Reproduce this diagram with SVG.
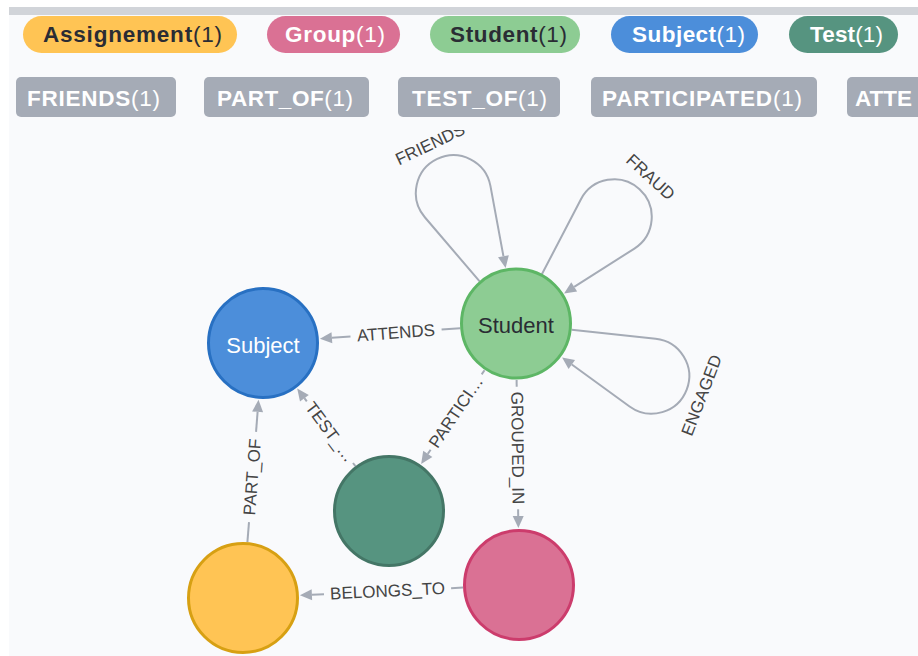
<svg xmlns="http://www.w3.org/2000/svg" width="918" height="656" viewBox="0 0 918 656">
<style>
.pill text, .tag text { font-family: "Liberation Sans", Arial, sans-serif; font-size: 22.5px; }
.b { font-weight: 700; }
.r { font-weight: 400; }
.dark { fill: #2a2c34; }
.light { fill: #ffffff; }
.tag rect { fill: #a5abb6; }
.edge { stroke: #a5abb6; stroke-width: 2; fill: none; }
.elabel { font-family: "Liberation Sans", Arial, sans-serif; font-size: 17px; fill: #444444; text-anchor: middle; dominant-baseline: central; }
.nlabel { font-family: "Liberation Sans", Arial, sans-serif; font-size: 22px; text-anchor: middle; }
.node circle { stroke-width: 3; }
</style>
<defs>
<marker id="arr" markerUnits="userSpaceOnUse" markerWidth="13" markerHeight="12" refX="0" refY="5.5" orient="auto" overflow="visible">
<path d="M0,0 L12,5.5 L0,11 Z" fill="#a5abb6"/>
</marker>
</defs>
<rect x="0" y="0" width="918" height="656" fill="#ffffff"/>
<rect x="9" y="7" width="909" height="649" fill="#f9fafc"/>

<g id="connectors">
<g id="e-attends">
<line class="edge" x1="460.2" y1="328.2" x2="441.6" y2="329.6"/>
<line class="edge" x1="350.5" y1="336.4" x2="331.9" y2="337.8" marker-end="url(#arr)"/>
<text class="elabel" transform="translate(396,333) rotate(-4.3)">ATTENDS</text>
</g>
<g id="e-testof">
<line class="edge" x1="355.4" y1="466.2" x2="353.0" y2="463.0"/>
<line class="edge" x1="306.8" y1="401.4" x2="304.4" y2="398.2" marker-end="url(#arr)"/>
<text class="elabel" transform="translate(329.9,432.2) rotate(53.13)">TEST_…</text>
</g>
<g id="e-participated">
<line class="edge" x1="484.5" y1="370.3" x2="481.7" y2="374.4"/>
<line class="edge" x1="430.6" y1="449.7" x2="427.8" y2="453.9" marker-end="url(#arr)"/>
<text class="elabel" transform="translate(456.1,412.1) rotate(-55.8)">PARTICI…</text>
</g>
<g id="e-groupedin">
<line class="edge" x1="516.6" y1="380" x2="516.7" y2="386.8"/>
<line class="edge" x1="518.1" y1="509.2" x2="518.2" y2="516" marker-end="url(#arr)"/>
<text class="elabel" transform="translate(517.4,448) rotate(89.34)">GROUPED_IN</text>
</g>
<g id="e-belongsto">
<line class="edge" x1="463.1" y1="587.6" x2="451.1" y2="588.2"/>
<line class="edge" x1="324" y1="594.15" x2="311.9" y2="594.7" marker-end="url(#arr)"/>
<text class="elabel" transform="translate(387.5,591.2) rotate(-2.7)">BELONGS_TO</text>
</g>
<g id="e-partof">
<line class="edge" x1="247.4" y1="542.2" x2="249.0" y2="522.1"/>
<line class="edge" x1="256.05" y1="431.9" x2="257.6" y2="411.8" marker-end="url(#arr)"/>
<text class="elabel" transform="translate(252.5,477) rotate(-85.5)">PART_OF</text>
</g>
<g id="e-friends">
<path class="edge" d="M479.63,281.42 L424.82,217.24 A37.6,37.6 0 1 1 490.42,185.94 L503.43,256.15" marker-end="url(#arr)"/>
<text class="elabel" transform="translate(430.3,144.4) rotate(-25.5)">FRIENDS</text>
</g>
<g id="e-fraud">
<path class="edge" d="M541.86,274.33 L580.82,199.47 A37.6,37.6 0 1 1 634.41,248.56 L574.19,286.93" marker-end="url(#arr)"/>
<text class="elabel" transform="translate(650.4,177.3) rotate(42.5)">FRAUD</text>
</g>
<g id="e-engaged">
<path class="edge" d="M571.69,329.85 L655.63,338.67 A37.6,37.6 0 1 1 629.58,406.53 L571.82,364.56" marker-end="url(#arr)"/>
<text class="elabel" transform="translate(701.8,395.3) rotate(-69)">ENGAGED</text>
</g>
</g>

<g id="node-student" class="node">
<circle cx="516" cy="323.5" r="54.5" fill="#8dcc93" stroke="#5db665"/>
<text class="nlabel dark" x="516" y="333">Student</text>
</g>
<g id="node-subject" class="node">
<circle cx="263" cy="343" r="54.5" fill="#4c8eda" stroke="#2870c2"/>
<text class="nlabel light" x="263" y="352.5">Subject</text>
</g>
<g id="node-test" class="node">
<circle cx="389" cy="511" r="54.5" fill="#569480" stroke="#447666"/>
</g>
<g id="node-group" class="node">
<circle cx="519" cy="585" r="54.5" fill="#da7194" stroke="#cc3c6c"/>
</g>
<g id="node-assignement" class="node">
<circle cx="243" cy="598" r="54.5" fill="#ffc454" stroke="#d7a013"/>
</g>

<g id="legend">
<rect x="9" y="15" width="909" height="115" fill="#f9fafc"/>
<rect x="9" y="7" width="909" height="8" fill="#d1d4d9"/>
<g class="pill" id="pill-assignement">
<rect x="23" y="16" width="214" height="37" rx="18.5" fill="#ffc454"/>
<text x="43" y="42" class="dark" textLength="179"><tspan class="b">Assignement</tspan><tspan class="r">(1)</tspan></text>
</g>
<g class="pill" id="pill-group">
<rect x="267" y="16" width="133" height="37" rx="18.5" fill="#da7194"/>
<text x="285" y="42" class="light" textLength="100"><tspan class="b">Group</tspan><tspan class="r">(1)</tspan></text>
</g>
<g class="pill" id="pill-student">
<rect x="430" y="16" width="150" height="37" rx="18.5" fill="#8dcc93"/>
<text x="450" y="42" class="dark" textLength="117"><tspan class="b">Student</tspan><tspan class="r">(1)</tspan></text>
</g>
<g class="pill" id="pill-subject">
<rect x="611" y="16" width="147" height="37" rx="18.5" fill="#4c8eda"/>
<text x="632" y="42" class="light" textLength="113"><tspan class="b">Subject</tspan><tspan class="r">(1)</tspan></text>
</g>
<g class="pill" id="pill-test">
<rect x="789" y="16" width="109" height="37" rx="18.5" fill="#569480"/>
<text x="810" y="42" class="light" textLength="73"><tspan class="b">Test</tspan><tspan class="r">(1)</tspan></text>
</g>
<g class="tag" id="tag-friends">
<rect x="16" y="77" width="160" height="40" rx="5"/>
<text x="27" y="105.5" class="light" textLength="133"><tspan class="b">FRIENDS</tspan><tspan class="r">(1)</tspan></text>
</g>
<g class="tag" id="tag-partof">
<rect x="204" y="77" width="165" height="40" rx="5"/>
<text x="217" y="105.5" class="light" textLength="136"><tspan class="b">PART_OF</tspan><tspan class="r">(1)</tspan></text>
</g>
<g class="tag" id="tag-testof">
<rect x="398" y="77" width="162" height="40" rx="5"/>
<text x="412" y="105.5" class="light" textLength="135"><tspan class="b">TEST_OF</tspan><tspan class="r">(1)</tspan></text>
</g>
<g class="tag" id="tag-participated">
<rect x="591" y="77" width="226" height="40" rx="5"/>
<text x="602" y="105.5" class="light" textLength="200"><tspan class="b">PARTICIPATED</tspan><tspan class="r">(1)</tspan></text>
</g>
<g class="tag" id="tag-attends">
<rect x="847" y="77" width="71" height="40" rx="5"/>
<rect x="860" y="77" width="58" height="40"/>
<text x="855" y="105.5" class="light"><tspan class="b">ATTE</tspan></text>
</g>
</g>
</svg>
